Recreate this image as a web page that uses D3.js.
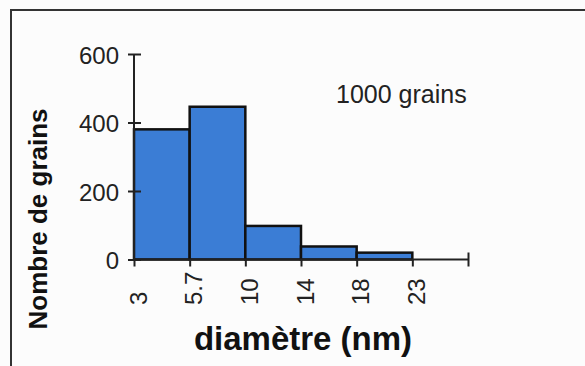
<!DOCTYPE html>
<html><head><meta charset="utf-8">
<script src="https://cdn.jsdelivr.net/npm/d3@7"></script>
<style>body{margin:0;background:#fcfcfc}svg{display:block}</style>
</head><body>
<svg id="c" width="585" height="366"></svg>
<script>
const binEdges = ["3", "5.7", "10", "14", "18", "23"];
const counts = [380, 446, 98, 38, 20];
const yTicks = [0, 200, 400, 600];
const xTitle = "diamètre (nm)";
const yTitle = "Nombre de grains";
const note = "1000 grains";

const FONT = "Arial, Liberation Sans, sans-serif";
const svg = d3.select("#c");
svg.append("rect").attr("width",585).attr("height",366).attr("fill","#fcfcfc");
// frame
svg.append("path").attr("d","M11,370 V10 H590").attr("fill","none").attr("stroke","#333").attr("stroke-width",2);

const x = d3.scaleLinear().domain([0, 6]).range([134, 468]);
const y = d3.scaleLinear().domain([0, 600]).range([259.5, 54]);

svg.selectAll("rect.bar").data(counts).join("rect").attr("class","bar")
  .attr("x",(d,i)=>x(i)).attr("width",(d,i)=>x(i+1)-x(i))
  .attr("y",d=>y(d)).attr("height",d=>y(0)-y(d))
  .attr("fill","#3b7dd5").attr("stroke","#111").attr("stroke-width",2.5);

// y axis
const ya = svg.append("g").attr("transform",`translate(${x(0)},0)`)
  .call(d3.axisLeft(y).tickValues(yTicks).tickSize(5).tickPadding(10));
ya.selectAll(".tick line").attr("x2",7).attr("x1",-6);
ya.select(".domain").attr("d",`M0,${y(600)}V${y(0)}`);
ya.selectAll("path,line").attr("stroke","#222").attr("stroke-width",2);
ya.selectAll("text").attr("font-family",FONT).attr("font-size",24).attr("fill","#222").attr("x",-15).attr("dy","0.38em");

// x axis
const xa = svg.append("g").attr("transform",`translate(0,${y(0)})`)
  .call(d3.axisBottom(x).tickValues(d3.range(0,7)).tickFormat(i=>binEdges[i]||"").tickSize(6));
xa.select(".domain").attr("d",`M${x(0)},0H${x(6)}`);
xa.selectAll(".tick line").attr("y1",d=>d===6?-7:0).attr("y2",7);
xa.selectAll("path,line").attr("stroke","#222").attr("stroke-width",2);
xa.selectAll("text").attr("font-family",FONT).attr("font-size",24).attr("fill","#222")
  .attr("transform","rotate(-90)").attr("text-anchor","start").attr("x",-(305-y(0))).attr("y",0).attr("dy","0.5em");

svg.append("text").attr("x",303).attr("y",350).attr("text-anchor","middle")
  .attr("font-family",FONT).attr("font-weight","bold").attr("font-size",33).attr("fill","#111").text(xTitle);
svg.append("text").attr("transform","translate(47,219) rotate(-90)").attr("text-anchor","middle")
  .attr("font-family",FONT).attr("font-weight","bold").attr("font-size",26).attr("fill","#111").text(yTitle);
svg.append("text").attr("x",336).attr("y",103)
  .attr("font-family",FONT).attr("font-size",25).attr("fill","#222").text(note);
</script>
</body></html>
